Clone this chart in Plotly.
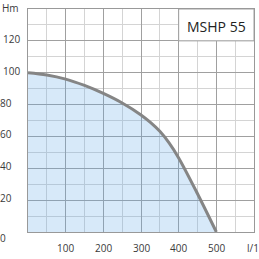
import plotly.graph_objects as go

# Data
flow = [0, 50, 100, 150, 200, 250, 300, 325, 350, 375, 400, 450, 500]
head = [100, 98.6, 96, 92, 87, 81, 73.5, 68.8, 63.2, 55.8, 46.5, 24, 0]

x_ticks = [100, 200, 300, 400, 500]
y_ticks = [120, 100, 80, 60, 40, 20, 0]
title_text = "MSHP 55"
y_unit = "Hm"
x_unit = "l/1'"

W = H = 259
ML, MR, MT, MB = 28, 5, 9, 27
PW = W - ML - MR
FONT = "Open Sans"
TXT = "#3a3a3a"
MAJ = "#a0a0a0"
MIN = "#d4d4d4"

fig = go.Figure()
fig.add_trace(go.Scatter(
    x=flow, y=head, mode="lines", line=dict(color="#858585", width=3, shape="spline", smoothing=1.0),
    fill="tozeroy", fillcolor="rgba(100,170,230,0.26)", hoverinfo="skip", showlegend=False,
))

ann = []
for v in y_ticks:
    t = str(v)
    px = 1 if len(t) == 3 else -2
    ys = -8 if v == 0 else 0
    ann.append(dict(text=t, xref="paper", yref="y", x=(px - ML) / PW, y=v, yshift=ys + 2,
                    xanchor="left", yanchor="middle", showarrow=False,
                    font=dict(family=FONT, size=10, color=TXT)))
for v in x_ticks:
    ann.append(dict(text=str(v), xref="x", yref="y", x=v, y=0, yshift=-16,
                    xanchor="center", yanchor="middle", showarrow=False,
                    font=dict(family=FONT, size=10, color=TXT)))
ann.append(dict(text=x_unit, xref="paper", yref="y", x=(245 - ML) / PW, y=0, yshift=-16,
                xanchor="left", yanchor="middle", showarrow=False,
                font=dict(family=FONT, size=10, color=TXT)))
ann.append(dict(text=y_unit, xref="paper", yref="paper", x=(0 - ML) / PW, y=1, yshift=1,
                xanchor="left", yanchor="middle", showarrow=False,
                font=dict(family=FONT, size=10, color=TXT)))
ann.append(dict(text=title_text, xref="x", yref="y", x=500, y=129,
                xanchor="center", yanchor="middle", showarrow=False,
                font=dict(family=FONT, size=14, color="#222222")))

fig.update_layout(
    width=W, height=H, margin=dict(l=ML, r=MR, t=MT, b=MB),
    paper_bgcolor="white", plot_bgcolor="white",
    annotations=ann,
    shapes=[dict(type="rect", xref="x", yref="y", x0=400, x1=600, y0=120, y1=140,
                 fillcolor="white", line=dict(color=MAJ, width=1), layer="above")],
)
fig.update_xaxes(range=[0, 600], dtick=100, tick0=0, showgrid=True, gridcolor=MAJ, gridwidth=1,
                 minor=dict(dtick=50, showgrid=True, gridcolor=MIN, gridwidth=1),
                 showticklabels=False, ticks="", zeroline=False,
                 showline=True, linecolor="#999999", linewidth=1, mirror=True)
fig.update_yaxes(range=[0, 140], dtick=20, tick0=0, showgrid=True, gridcolor=MAJ, gridwidth=1,
                 minor=dict(dtick=10, showgrid=True, gridcolor=MIN, gridwidth=1),
                 showticklabels=False, ticks="", zeroline=False,
                 showline=True, linecolor="#999999", linewidth=1, mirror=True)

fig.write_html("out.html")
